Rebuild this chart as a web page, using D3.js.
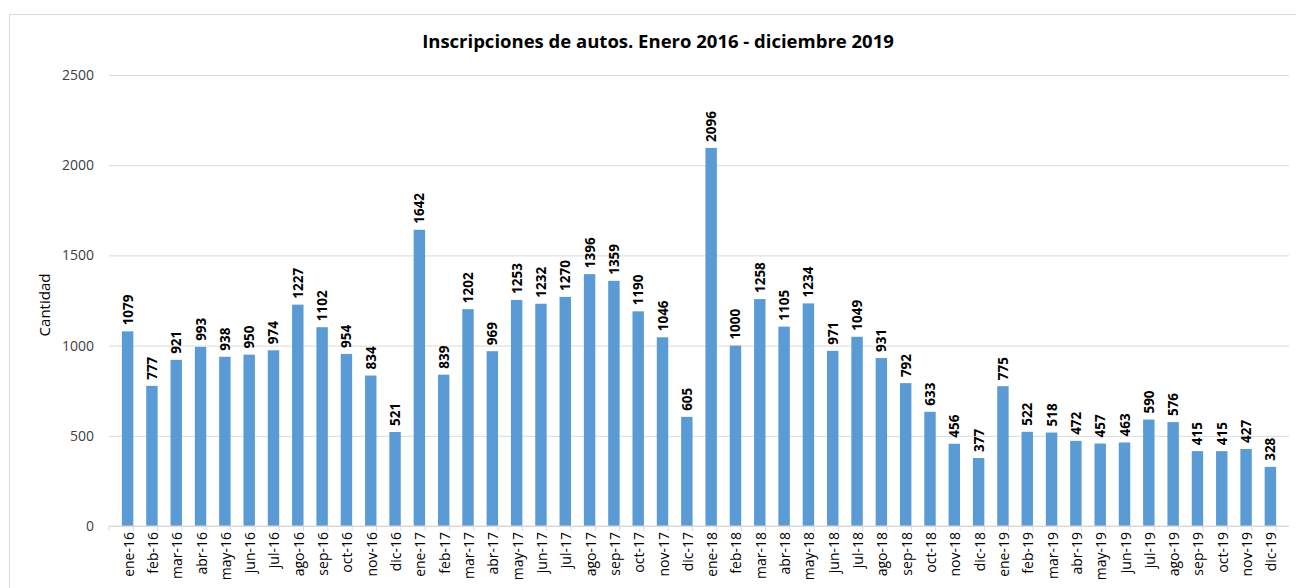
<!DOCTYPE html>
<html>
<head>
<meta charset="utf-8">
<script src="https://cdn.jsdelivr.net/npm/d3@7"></script>
<style>
  body { margin: 0; background: #fff; }
  text { font-family: "Open Sans", Lato, sans-serif; }
</style>
</head>
<body>
<div id="chart"></div>
<script>
var months = ["ene", "feb", "mar", "abr", "may", "jun", "jul", "ago", "sep", "oct", "nov", "dic"]
var years = ["16", "17", "18", "19"]
var categories = []
years.forEach(function(y) {
  months.forEach(function(m) { categories.push(m + "-" + y) })
})

var values = [
  1079, 777, 921, 993, 938, 950, 974, 1227, 1102, 954, 834, 521,
  1642, 839, 1202, 969, 1253, 1232, 1270, 1396, 1359, 1190, 1046, 605,
  2096, 1000, 1258, 1105, 1234, 971, 1049, 931, 792, 633, 456, 377,
  775, 522, 518, 472, 457, 463, 590, 576, 415, 415, 427, 328
]
var yTicks = [0, 500, 1000, 1500, 2000, 2500]

var data = categories.map(function(c, i) { return { cat: c, value: values[i] } })

var width = 1296,
  height = 588

var svg = d3.select("#chart")
  .append("svg")
  .attr("width", width)
  .attr("height", height)

// outer chart frame
svg.append("rect")
  .attr("x", 9.5)
  .attr("y", 14.5)
  .attr("width", 1300)
  .attr("height", 600)
  .attr("fill", "none")
  .attr("stroke", "#d9d9d9")

var x = d3.scaleBand().domain(categories).range([109, 1289]).padding(0.53)
var y = d3.scaleLinear().domain([0, 2500]).range([526, 75])

svg.append("text")
  .attr("x", 658)
  .attr("y", 48)
  .attr("text-anchor", "middle")
  .attr("font-size", 18.5)
  .attr("font-weight", "bold")
  .attr("fill", "#000")
  .text("Inscripciones de autos. Enero 2016 - diciembre 2019")

// gridlines + y labels
var yAxis = svg.append("g")
  .attr("transform", "translate(109,0)")
  .call(d3.axisLeft(y).tickValues(yTicks).tickFormat(d3.format("d")).tickSize(-1180).tickPadding(15))
yAxis.select(".domain").remove()
yAxis.selectAll(".tick line").attr("stroke", "#d9d9d9")
yAxis.selectAll(".tick text").attr("font-size", 14).attr("fill", "#404040")

svg.append("text")
  .attr("transform", "translate(50,305) rotate(-90)")
  .attr("text-anchor", "middle")
  .attr("font-size", 15)
  .attr("fill", "#000")
  .text("Cantidad")

svg.selectAll(".bar")
  .data(data)
  .enter().append("rect")
  .attr("class", "bar")
  .attr("x", function(d) { return x(d.cat) })
  .attr("width", x.bandwidth())
  .attr("y", function(d) { return y(d.value) })
  .attr("height", function(d) { return y(0) - y(d.value) })
  .attr("fill", "#5b9bd5")

svg.selectAll(".lbl")
  .data(data)
  .enter().append("text")
  .attr("class", "lbl")
  .attr("transform", function(d) {
    return "translate(" + (x(d.cat) + x.bandwidth() / 2 + 5) + "," + (y(d.value) - 6) + ") rotate(-90)"
  })
  .attr("font-size", 13.5)
  .attr("font-weight", "bold")
  .attr("fill", "#000")
  .text(function(d) { return d.value })

// x axis
var xBase = svg.append("g").attr("transform", "translate(0,526)")
xBase.append("line")
  .attr("x1", 109).attr("x2", 1289)
  .attr("stroke", "#d9d9d9")
xBase.selectAll(".tk")
  .data(categories.concat(["end"]))
  .enter().append("line")
  .attr("x1", function(d, i) { return 109 + i * x.step() })
  .attr("x2", function(d, i) { return 109 + i * x.step() })
  .attr("y1", 0).attr("y2", 5)
  .attr("stroke", "#d9d9d9")

xBase.selectAll(".xl")
  .data(categories)
  .enter().append("text")
  .attr("transform", function(d) {
    return "translate(" + (x(d) + x.bandwidth() / 2 + 6) + ",6) rotate(-90)"
  })
  .attr("text-anchor", "end")
  .attr("font-size", 14)
  .attr("fill", "#000")
  .text(function(d) { return d })
</script>
</body>
</html>
